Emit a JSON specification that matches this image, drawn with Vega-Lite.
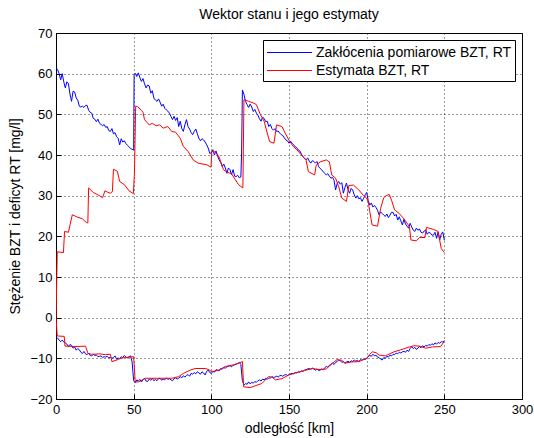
{
  "$schema": "https://vega.github.io/schema/vega-lite/v6.json",
  "autosize": {"type": "none"},
  "padding": {"left": 56, "top": 33, "right": 12, "bottom": 39},
  "width": 466,
  "height": 366,
  "background": "white",
  "title": {"text": "Wektor stanu i jego estymaty", "font": "Liberation Sans", "fontSize": 14, "fontWeight": "normal", "color": "black", "offset": 5},
  "datasets": {
    "bzt": [
      {"x":0,"y":61.5},{"x":1,"y":61},{"x":2,"y":60},{"x":3,"y":58.5},{"x":4,"y":60},{"x":5,"y":58},{"x":6,"y":56.5},{"x":7,"y":58},{"x":8,"y":57.5},{"x":9,"y":55},
      {"x":10,"y":53.2},{"x":11,"y":55.7},{"x":12,"y":55.5},{"x":13,"y":54},{"x":14,"y":53.5},{"x":15,"y":52},{"x":16,"y":51.8},{"x":17,"y":52},{"x":18,"y":51.7},{"x":19,"y":52.2},
      {"x":20,"y":52.2},{"x":21,"y":51},{"x":22,"y":50.5},{"x":23,"y":50.3},{"x":24,"y":49},{"x":25,"y":48.8},{"x":26,"y":48.2},{"x":27,"y":48.8},{"x":28,"y":47.8},{"x":29,"y":47.5},
      {"x":30,"y":47.2},{"x":31,"y":47.5},{"x":32,"y":46.8},{"x":33,"y":47},{"x":34,"y":46},{"x":35,"y":45.8},{"x":36,"y":46.5},{"x":37,"y":45.2},{"x":38,"y":45.5},{"x":39,"y":44.5},
      {"x":40,"y":44.1},{"x":41,"y":42.5},{"x":42,"y":44},{"x":43,"y":43.2},{"x":44,"y":43.5},{"x":45,"y":42.8},{"x":46,"y":42.4},{"x":47,"y":42},{"x":48,"y":41.6},{"x":49,"y":41.4},
      {"x":50,"y":41.2},{"x":50.3,"y":59.8},{"x":51,"y":60.1},{"x":52,"y":59.3},{"x":53,"y":60.2},{"x":54,"y":59},{"x":55,"y":58.1},{"x":56,"y":58.8},{"x":57,"y":57.5},{"x":58,"y":56.5},{"x":59,"y":57.2},
      {"x":60,"y":57},{"x":61,"y":55.2},{"x":62,"y":55.8},{"x":63,"y":54},{"x":64,"y":53.5},{"x":65,"y":53.2},{"x":66,"y":53.8},{"x":67,"y":53},{"x":68,"y":52},{"x":69,"y":52.5},
      {"x":70,"y":51.5},{"x":71,"y":51.1},{"x":72,"y":50.8},{"x":73,"y":50.3},{"x":74,"y":49.5},{"x":75,"y":48.7},{"x":76,"y":49.5},{"x":77,"y":48.5},{"x":78,"y":49.2},{"x":79,"y":47},
      {"x":80,"y":48.3},{"x":81,"y":46.5},{"x":82,"y":45.8},{"x":83,"y":47.5},{"x":84,"y":48.7},{"x":85,"y":47},{"x":86,"y":46.4},{"x":87,"y":45.5},{"x":88,"y":45},{"x":89,"y":45.8},
      {"x":90,"y":46.4},{"x":91,"y":45.2},{"x":92,"y":44.1},{"x":93,"y":43.5},{"x":94,"y":44},{"x":95,"y":43.7},{"x":96,"y":43.2},{"x":97,"y":42.5},{"x":98,"y":41.7},{"x":99,"y":40.4},
      {"x":100,"y":40.5},{"x":101,"y":41.3},{"x":102,"y":40},{"x":103,"y":41},{"x":104,"y":39.8},{"x":105,"y":38.8},{"x":106,"y":38.2},{"x":107,"y":37.2},{"x":108,"y":37.8},{"x":109,"y":36.8},
      {"x":110,"y":35.5},{"x":111,"y":36.8},{"x":112,"y":36.4},{"x":113,"y":35.2},{"x":114,"y":36.4},{"x":115,"y":34.8},{"x":116,"y":34.7},{"x":117,"y":35},{"x":118,"y":34.4},{"x":119,"y":34.6},
      {"x":119.5,"y":40.5},{"x":120,"y":56},{"x":121,"y":54.9},{"x":122,"y":53.2},{"x":123,"y":52.4},{"x":124,"y":51.7},{"x":125,"y":52.5},{"x":126,"y":51.8},{"x":127,"y":50.7},{"x":128,"y":51.2},{"x":129,"y":50.3},
      {"x":130,"y":49.8},{"x":131,"y":48.9},{"x":132,"y":48.3},{"x":133,"y":49.3},{"x":134,"y":49},{"x":135,"y":48.2},{"x":136,"y":48.3},{"x":137,"y":47},{"x":138,"y":47.5},{"x":139,"y":46.5},
      {"x":140,"y":46.1},{"x":141,"y":46.5},{"x":142,"y":45.8},{"x":143,"y":45.9},{"x":144,"y":45.4},{"x":145,"y":45},{"x":146,"y":44.8},{"x":147,"y":44.2},{"x":148,"y":43.7},{"x":149,"y":43.5},
      {"x":150,"y":42.9},{"x":151,"y":43.4},{"x":152,"y":42.9},{"x":153,"y":42.5},{"x":154,"y":42},{"x":155,"y":41.8},{"x":156,"y":41.2},{"x":157,"y":41},{"x":158,"y":40.2},{"x":159,"y":39.6},
      {"x":160,"y":39.2},{"x":161,"y":38.8},{"x":162,"y":39.3},{"x":163,"y":38.5},{"x":164,"y":38},{"x":165,"y":38.6},{"x":166,"y":38.4},{"x":167,"y":38},{"x":168,"y":38.4},{"x":169,"y":37.2},
      {"x":170,"y":36.7},{"x":171,"y":36.4},{"x":172,"y":35.9},{"x":173,"y":35.5},{"x":174,"y":35.1},{"x":175,"y":35.4},{"x":176,"y":34.8},{"x":177,"y":34.3},{"x":178,"y":34.5},{"x":179,"y":33.8},
      {"x":180,"y":31.4},{"x":181,"y":33},{"x":182,"y":33.5},{"x":183,"y":32.8},{"x":184,"y":33.2},{"x":185,"y":30.6},{"x":186,"y":32},{"x":187,"y":33.1},{"x":188,"y":31.5},{"x":189,"y":30.6},
      {"x":190,"y":31.8},{"x":191,"y":31.4},{"x":192,"y":30.2},{"x":193,"y":29.4},{"x":194,"y":30},{"x":195,"y":29.2},{"x":196,"y":29.5},{"x":197,"y":28.6},{"x":198,"y":29.3},{"x":199,"y":30.2},
      {"x":200,"y":30.8},{"x":201,"y":28.8},{"x":202,"y":27.7},{"x":203,"y":28.2},{"x":204,"y":27.2},{"x":205,"y":27.6},{"x":206,"y":27.1},{"x":207,"y":26.4},{"x":208,"y":25.3},{"x":209,"y":26},
      {"x":210,"y":25.6},{"x":211,"y":25.2},{"x":212,"y":24.9},{"x":213,"y":25.5},{"x":214,"y":24.6},{"x":215,"y":25.2},{"x":216,"y":25.9},{"x":217,"y":25.9},{"x":218,"y":25},{"x":219,"y":25.4},
      {"x":220,"y":24},{"x":221,"y":24.8},{"x":222,"y":23.8},{"x":223,"y":22.8},{"x":224,"y":24.2},{"x":225,"y":23},{"x":226,"y":22.5},{"x":227,"y":22},{"x":228,"y":23.2},{"x":229,"y":22.3},
      {"x":230,"y":21.5},{"x":231,"y":21.2},{"x":232,"y":22},{"x":233,"y":21.5},{"x":234,"y":21.8},{"x":235,"y":21},{"x":236,"y":20.8},{"x":237,"y":21.3},{"x":238,"y":21.6},{"x":239,"y":20.5},
      {"x":240,"y":21},{"x":241,"y":20.8},{"x":242,"y":20.3},{"x":243,"y":20.3},{"x":244,"y":21},{"x":245,"y":19.5},{"x":246,"y":21.1},{"x":247,"y":19.1},{"x":248,"y":20.5},{"x":249,"y":21.1},{"x":250,"y":19}
    ],
    "rt": [
      {"x":0,"y":-4.7},{"x":1,"y":-5},{"x":2,"y":-5.5},{"x":3,"y":-5.9},{"x":4,"y":-5.5},{"x":5,"y":-6},{"x":6,"y":-6.2},{"x":7,"y":-6.5},{"x":8,"y":-7.1},{"x":9,"y":-6.6},
      {"x":10,"y":-6.8},{"x":11,"y":-7.5},{"x":12,"y":-7.2},{"x":13,"y":-8},{"x":14,"y":-7.6},{"x":15,"y":-7.9},{"x":16,"y":-8.5},{"x":17,"y":-8.8},{"x":18,"y":-8.3},{"x":19,"y":-8.9},
      {"x":20,"y":-9.1},{"x":21,"y":-8.7},{"x":22,"y":-9.3},{"x":23,"y":-9.4},{"x":24,"y":-9},{"x":25,"y":-9.3},{"x":26,"y":-9.2},{"x":27,"y":-9.6},{"x":28,"y":-9.5},{"x":29,"y":-9.4},
      {"x":30,"y":-9.8},{"x":31,"y":-9.6},{"x":32,"y":-9.7},{"x":33,"y":-9.5},{"x":34,"y":-9.9},{"x":35,"y":-9.7},{"x":36,"y":-10},{"x":37,"y":-9.8},{"x":38,"y":-9.4},{"x":39,"y":-10.2},
      {"x":40,"y":-9.9},{"x":41,"y":-10.1},{"x":42,"y":-9.6},{"x":43,"y":-9.8},{"x":44,"y":-9.3},{"x":45,"y":-9.7},{"x":46,"y":-9.9},{"x":47,"y":-9.6},{"x":48,"y":-9.4},{"x":49,"y":-10.9},
      {"x":50,"y":-15.5},{"x":51,"y":-16},{"x":52,"y":-15.3},{"x":53,"y":-15.6},{"x":54,"y":-15.2},{"x":55,"y":-15.8},{"x":56,"y":-15.3},{"x":57,"y":-14.9},{"x":58,"y":-15.6},{"x":59,"y":-15.7},
      {"x":60,"y":-15.1},{"x":61,"y":-15.4},{"x":62,"y":-14.9},{"x":63,"y":-15.5},{"x":64,"y":-15.2},{"x":65,"y":-15.5},{"x":66,"y":-15},{"x":67,"y":-14.9},{"x":68,"y":-15.4},{"x":69,"y":-15.1},
      {"x":70,"y":-15.3},{"x":71,"y":-14.8},{"x":72,"y":-15.2},{"x":73,"y":-15},{"x":74,"y":-15.3},{"x":75,"y":-15.5},{"x":76,"y":-15},{"x":77,"y":-14.8},{"x":78,"y":-15.1},{"x":79,"y":-14.9},
      {"x":80,"y":-14.5},{"x":81,"y":-14.8},{"x":82,"y":-14.3},{"x":83,"y":-14.6},{"x":84,"y":-14.2},{"x":85,"y":-14},{"x":86,"y":-14.4},{"x":87,"y":-13.7},{"x":88,"y":-13.9},{"x":89,"y":-13.5},
      {"x":90,"y":-13.8},{"x":91,"y":-13.3},{"x":92,"y":-13.6},{"x":93,"y":-13.9},{"x":94,"y":-13.3},{"x":95,"y":-13.6},{"x":96,"y":-14.1},{"x":97,"y":-13.2},{"x":98,"y":-12.9},{"x":99,"y":-13.5},
      {"x":100,"y":-13.7},{"x":101,"y":-13.2},{"x":102,"y":-13.4},{"x":103,"y":-12.8},{"x":104,"y":-12.9},{"x":105,"y":-13.1},{"x":106,"y":-12.5},{"x":107,"y":-12.7},{"x":108,"y":-12.3},{"x":109,"y":-12.4},
      {"x":110,"y":-12.1},{"x":111,"y":-12},{"x":112,"y":-11.8},{"x":113,"y":-12.1},{"x":114,"y":-11.7},{"x":115,"y":-11.6},{"x":116,"y":-11.4},{"x":117,"y":-11.3},{"x":118,"y":-11},{"x":119,"y":-11.5},
      {"x":120,"y":-15.5},{"x":121,"y":-16.6},{"x":122,"y":-16.2},{"x":123,"y":-16.4},{"x":124,"y":-15.8},{"x":125,"y":-16.3},{"x":126,"y":-15.9},{"x":127,"y":-16.1},{"x":128,"y":-15.7},{"x":129,"y":-15.9},
      {"x":130,"y":-15.5},{"x":131,"y":-15.3},{"x":132,"y":-15.6},{"x":133,"y":-15.1},{"x":134,"y":-15.3},{"x":135,"y":-14.9},{"x":136,"y":-15.2},{"x":137,"y":-14.8},{"x":138,"y":-14.9},{"x":139,"y":-14.5},
      {"x":140,"y":-14.7},{"x":141,"y":-14.6},{"x":142,"y":-14.4},{"x":143,"y":-14.6},{"x":144,"y":-14.3},{"x":145,"y":-14.2},{"x":146,"y":-14.4},{"x":147,"y":-14.1},{"x":148,"y":-14},{"x":149,"y":-14.2},
      {"x":150,"y":-14},{"x":151,"y":-13.8},{"x":152,"y":-13.7},{"x":153,"y":-13.8},{"x":154,"y":-13.5},{"x":155,"y":-13.6},{"x":156,"y":-13.3},{"x":157,"y":-13.4},{"x":158,"y":-13.1},{"x":159,"y":-13.2},
      {"x":160,"y":-12.9},{"x":161,"y":-12.8},{"x":162,"y":-12.6},{"x":163,"y":-12.5},{"x":164,"y":-12.7},{"x":165,"y":-12.4},{"x":166,"y":-12.6},{"x":167,"y":-12.9},{"x":168,"y":-12.6},{"x":169,"y":-13},
      {"x":170,"y":-12.9},{"x":171,"y":-12.6},{"x":172,"y":-12.8},{"x":173,"y":-12.3},{"x":174,"y":-12},{"x":175,"y":-12.2},{"x":176,"y":-11.7},{"x":177,"y":-11.5},{"x":178,"y":-11.2},{"x":179,"y":-11.5},
      {"x":180,"y":-11},{"x":181,"y":-10.8},{"x":182,"y":-10.4},{"x":183,"y":-10.6},{"x":184,"y":-11},{"x":185,"y":-10.8},{"x":186,"y":-11.2},{"x":187,"y":-10.9},{"x":188,"y":-10.7},{"x":189,"y":-11},
      {"x":190,"y":-10.6},{"x":191,"y":-10.8},{"x":192,"y":-10.4},{"x":193,"y":-10.7},{"x":194,"y":-10.5},{"x":195,"y":-10.8},{"x":196,"y":-10.3},{"x":197,"y":-10.5},{"x":198,"y":-10.1},{"x":199,"y":-10.3},
      {"x":200,"y":-10},{"x":201,"y":-9.6},{"x":202,"y":-9.3},{"x":203,"y":-9.5},{"x":204,"y":-9},{"x":205,"y":-9.4},{"x":206,"y":-9.2},{"x":207,"y":-9.7},{"x":208,"y":-9.8},{"x":209,"y":-10.2},
      {"x":210,"y":-10.4},{"x":211,"y":-9.8},{"x":212,"y":-10},{"x":213,"y":-9.5},{"x":214,"y":-9.7},{"x":215,"y":-9.2},{"x":216,"y":-9.4},{"x":217,"y":-9},{"x":218,"y":-9.1},{"x":219,"y":-8.7},
      {"x":220,"y":-8.9},{"x":221,"y":-8.5},{"x":222,"y":-8.7},{"x":223,"y":-8.4},{"x":224,"y":-8.3},{"x":225,"y":-8.5},{"x":226,"y":-8},{"x":227,"y":-8.3},{"x":228,"y":-7.6},{"x":229,"y":-7.1},
      {"x":230,"y":-7.6},{"x":231,"y":-7.3},{"x":232,"y":-7.8},{"x":233,"y":-7.5},{"x":234,"y":-7.1},{"x":235,"y":-7.4},{"x":236,"y":-6.9},{"x":237,"y":-7.2},{"x":238,"y":-6.8},{"x":239,"y":-7},
      {"x":240,"y":-6.6},{"x":241,"y":-6.8},{"x":242,"y":-6.4},{"x":243,"y":-6.7},{"x":244,"y":-6.2},{"x":245,"y":-6.5},{"x":246,"y":-6.1},{"x":247,"y":-6.3},{"x":248,"y":-5.9},{"x":249,"y":-6},{"x":250,"y":-5.6}
    ],
    "ebzt": [
      {"x":0,"y":0},{"x":0.8,"y":16.2},{"x":4.8,"y":16},{"x":5.5,"y":21.2},{"x":8,"y":21},{"x":10.5,"y":25.3},{"x":14,"y":24.7},{"x":17,"y":24.3},{"x":19.5,"y":23.4},{"x":20.5,"y":23.3},
      {"x":21,"y":31.9},{"x":24,"y":30.8},{"x":27,"y":30.2},{"x":30,"y":29.5},{"x":31.5,"y":31.2},{"x":33,"y":30.9},{"x":35,"y":30.6},{"x":36.3,"y":31},{"x":37,"y":36.5},{"x":39.5,"y":36},
      {"x":41,"y":33.5},{"x":44,"y":32.7},{"x":47,"y":31.2},{"x":49.8,"y":30.5},{"x":50.5,"y":35.5},{"x":51.3,"y":52},{"x":52.5,"y":51.9},{"x":55,"y":51},{"x":56,"y":50.5},{"x":57,"y":48.7},
      {"x":60,"y":47.4},{"x":62,"y":47.8},{"x":64.5,"y":47.2},{"x":66.8,"y":47.4},{"x":69,"y":46.6},{"x":72,"y":47},{"x":74.5,"y":45.8},{"x":77,"y":45.6},{"x":80,"y":44.1},{"x":82,"y":42.1},
      {"x":85,"y":40.9},{"x":88.3,"y":38.8},{"x":91.5,"y":38},{"x":94,"y":37.8},{"x":97,"y":37.6},{"x":99.8,"y":37},{"x":100.3,"y":41},{"x":102,"y":40.8},{"x":103.5,"y":40.4},{"x":105,"y":39.5},
      {"x":107.8,"y":36.4},{"x":110,"y":35.8},{"x":113,"y":35.4},{"x":115.5,"y":33.9},{"x":117.5,"y":32.7},{"x":120.3,"y":31.9},{"x":121,"y":53.6},{"x":124,"y":53.2},{"x":127,"y":52.8},{"x":129,"y":52.4},
      {"x":131.5,"y":50},{"x":134,"y":48.3},{"x":136,"y":45.4},{"x":137.5,"y":43.3},{"x":140.3,"y":42.9},{"x":142,"y":47.4},{"x":145.5,"y":47},{"x":147.5,"y":45.4},{"x":150.5,"y":43.3},{"x":153,"y":42},
      {"x":155,"y":41.3},{"x":158,"y":40},{"x":161,"y":38.7},{"x":162.5,"y":35.9},{"x":166.5,"y":35.1},{"x":167.5,"y":37.5},{"x":170,"y":38.3},{"x":174,"y":38.8},{"x":176,"y":38.3},{"x":177.5,"y":35.1},
      {"x":180,"y":34.3},{"x":182,"y":32.2},{"x":184,"y":29.4},{"x":187,"y":28.6},{"x":188.5,"y":32.5},{"x":191.5,"y":32.6},{"x":195,"y":31.4},{"x":198,"y":30},{"x":200,"y":29.4},{"x":201,"y":28.5},
      {"x":202,"y":26.1},{"x":203.5,"y":22.8},{"x":207,"y":22.5},{"x":209,"y":26.9},{"x":211,"y":29.5},{"x":212.5,"y":30},{"x":214.5,"y":30.3},{"x":216,"y":28.9},{"x":218,"y":26.5},{"x":221,"y":25.6},
      {"x":224,"y":24.3},{"x":227.5,"y":22.4},{"x":228.5,"y":19.1},{"x":232,"y":18.9},{"x":234,"y":19.7},{"x":237.5,"y":19.7},{"x":238.5,"y":22.2},{"x":243,"y":21.7},{"x":246,"y":21.2},{"x":248,"y":17},{"x":250,"y":16}
    ],
    "ert": [
      {"x":0,"y":0},{"x":0.8,"y":-4.5},{"x":5.3,"y":-4.6},{"x":5.8,"y":-7},{"x":13.6,"y":-7.1},{"x":19,"y":-7},{"x":20.6,"y":-8.8},{"x":23,"y":-9},{"x":28.4,"y":-8.9},{"x":31.7,"y":-9.1},
      {"x":35,"y":-9},{"x":36,"y":-10.8},{"x":39.2,"y":-10.4},{"x":41.4,"y":-10},{"x":44.6,"y":-9.8},{"x":50,"y":-9.6},{"x":51,"y":-15.8},{"x":53.2,"y":-15.8},{"x":57.5,"y":-14.9},{"x":61.8,"y":-14.9},
      {"x":68.2,"y":-14.9},{"x":74.6,"y":-14.9},{"x":79,"y":-14.5},{"x":82,"y":-13.7},{"x":86.4,"y":-12.9},{"x":89.6,"y":-12.5},{"x":96,"y":-12.5},{"x":98,"y":-12.7},{"x":100.4,"y":-13.3},{"x":104.7,"y":-12.9},
      {"x":109,"y":-12},{"x":114.4,"y":-11.6},{"x":117.6,"y":-11.2},{"x":120,"y":-10.8},{"x":120.8,"y":-17},{"x":125,"y":-17.2},{"x":129.4,"y":-16.6},{"x":132.5,"y":-16.2},{"x":136.8,"y":-14.5},{"x":139,"y":-14.6},
      {"x":141.2,"y":-15.3},{"x":145.5,"y":-15},{"x":149.8,"y":-14.1},{"x":155,"y":-13.5},{"x":160,"y":-13},{"x":165,"y":-12.5},{"x":170,"y":-12.8},{"x":174,"y":-12.6},{"x":178,"y":-11.2},{"x":181,"y":-10.3},
      {"x":184,"y":-10.5},{"x":186,"y":-11.2},{"x":190,"y":-10.9},{"x":195,"y":-10.8},{"x":200,"y":-10},{"x":202,"y":-9},{"x":203.7,"y":-8.4},{"x":206,"y":-8.6},{"x":208,"y":-9.2},{"x":212,"y":-9.4},
      {"x":217.6,"y":-8.4},{"x":222,"y":-7.9},{"x":228.4,"y":-7.1},{"x":230.5,"y":-6.9},{"x":234,"y":-7},{"x":238,"y":-7.5},{"x":242.3,"y":-7.2},{"x":247.6,"y":-7.1},{"x":250,"y":-5.8}
    ]
  },
  "encoding": {
    "x": {"field": "x", "type": "quantitative",
      "scale": {"domain": [0, 300], "nice": false, "zero": false},
      "axis": {"values": [0, 50, 100, 150, 200, 250, 300], "title": "odległość [km]", "grid": true}},
    "y": {"field": "y", "type": "quantitative",
      "scale": {"domain": [-20, 70], "nice": false, "zero": false},
      "axis": {"values": [-20, -10, 0, 10, 20, 30, 40, 50, 60, 70], "title": "Stężenie BZT i deficyt RT [mg/l]", "grid": true}}
  },
  "layer": [
    {"data": {"name": "bzt"}, "mark": {"type": "line", "strokeWidth": 1, "clip": true},
     "encoding": {"color": {"datum": "Zakłócenia pomiarowe BZT, RT", "type": "nominal",
       "scale": {"domain": ["Zakłócenia pomiarowe BZT, RT", "Estymata BZT, RT"], "range": ["#0000ff", "#ff0000"]},
       "legend": {"title": null}}}},
    {"data": {"name": "rt"}, "mark": {"type": "line", "strokeWidth": 1, "clip": true},
     "encoding": {"color": {"datum": "Zakłócenia pomiarowe BZT, RT", "type": "nominal"}}},
    {"data": {"name": "ebzt"}, "mark": {"type": "line", "strokeWidth": 1, "clip": true},
     "encoding": {"color": {"datum": "Estymata BZT, RT", "type": "nominal"}}},
    {"data": {"name": "ert"}, "mark": {"type": "line", "strokeWidth": 1, "clip": true},
     "encoding": {"color": {"datum": "Estymata BZT, RT", "type": "nominal"}}}
  ],
  "config": {
    "font": "Liberation Sans",
    "view": {"stroke": "black", "strokeWidth": 1},
    "axis": {
      "domainColor": "black", "tickColor": "black", "labelColor": "black", "titleColor": "black",
      "labelFont": "Liberation Sans", "labelFontSize": 13, "titleFont": "Liberation Sans", "titleFontSize": 14, "titleFontWeight": "normal",
      "tickSize": -5, "labelPadding": 9, "labelFlush": false, "labelOverlap": false,
      "gridColor": "black", "gridDash": [1, 3], "gridOpacity": 0.8, "gridWidth": 1
    },
    "axisX": {"titlePadding": 5},
    "axisY": {"titlePadding": 7},
    "legend": {
      "orient": "top-right", "offset": 7, "fillColor": "white", "strokeColor": "black", "padding": 3,
      "labelFont": "Liberation Sans", "labelFontSize": 14, "labelColor": "black", "labelLimit": 0,
      "symbolType": "M-2.5,0H2.5", "symbolSize": 324, "symbolStrokeWidth": 1, "symbolOffset": 14, "labelOffset": 17, "rowPadding": 1
    }
  }
}
